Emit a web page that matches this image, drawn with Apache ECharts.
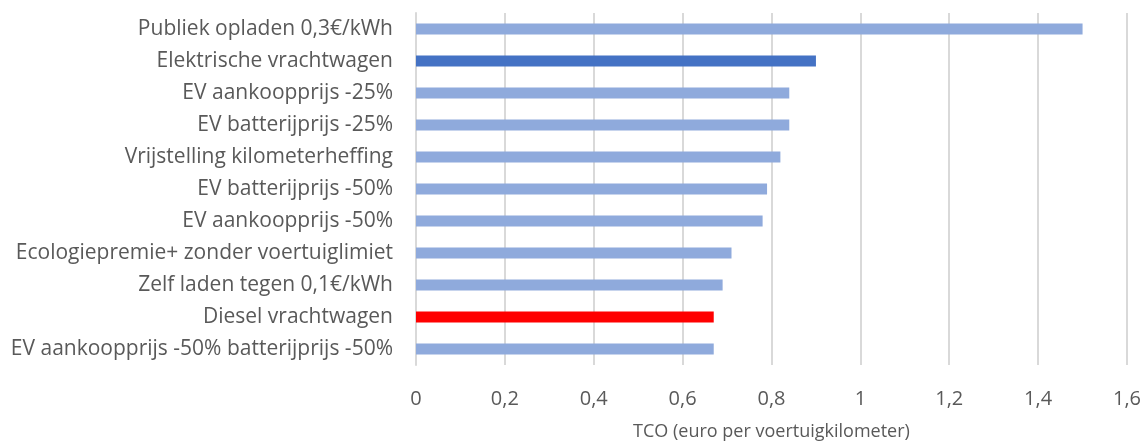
<!DOCTYPE html>
<html>
<head>
<meta charset="utf-8">
<script src="https://cdn.jsdelivr.net/npm/echarts@6/dist/echarts.min.js"></script>
<style>
  html, body { margin: 0; padding: 0; background: #fff; }
  #chart { width: 1144px; height: 441px; }
</style>
</head>
<body>
<div id="chart"></div>
<script>
// Scenarios, top to bottom
const categories = [
  'Publiek opladen 0,3€/kWh',
  'Elektrische vrachtwagen',
  'EV aankoopprijs -25%',
  'EV batterijprijs -25%',
  'Vrijstelling kilometerheffing',
  'EV batterijprijs -50%',
  'EV aankoopprijs -50%',
  'Ecologiepremie+ zonder voertuiglimiet',
  'Zelf laden tegen 0,1€/kWh',
  'Diesel vrachtwagen',
  'EV aankoopprijs -50% batterijprijs -50%'
];
// TCO in euro per voertuigkilometer
const tcoValues = [1.5, 0.9, 0.84, 0.84, 0.82, 0.79, 0.78, 0.71, 0.69, 0.67, 0.67];
// Colour role per bar: base scenario, diesel reference, or variant
const barRoles = ['variant', 'ev', 'variant', 'variant', 'variant', 'variant', 'variant', 'variant', 'variant', 'diesel', 'variant'];
const xTicks = { min: 0, max: 1.6, interval: 0.2 };
const axisTitle = 'TCO (euro per voertuigkilometer)';

const roleColors = { variant: '#8faadc', ev: '#4472c4', diesel: '#ff0000' };

const chart = echarts.init(document.getElementById('chart'), null, { renderer: 'canvas' });
chart.setOption({
  animation: false,
  grid: { left: 416, right: 17, top: 13, bottom: 76, outerBoundsMode: 'none' },
  xAxis: {
    type: 'value',
    min: xTicks.min, max: xTicks.max, interval: xTicks.interval,
    name: axisTitle,
    nameLocation: 'middle',
    nameGap: 58,
    nameTextStyle: { color: '#595959', fontSize: 18, fontFamily: 'Open Sans', verticalAlign: 'top' },
    axisLine: { show: false },
    axisTick: { show: false },
    axisLabel: {
      color: '#595959', fontSize: 20, fontFamily: 'Open Sans', margin: 24,
      formatter: v => String(Math.round(v * 10) / 10).replace('.', ',')
    },
    splitLine: { show: true, lineStyle: { color: '#d9d9d9', width: 2 } }
  },
  yAxis: {
    type: 'category',
    data: categories,
    inverse: true,
    axisLine: { show: true, lineStyle: { color: '#d9d9d9', width: 2 } },
    axisTick: { show: false },
    axisLabel: { color: '#595959', fontSize: 21, fontFamily: 'Open Sans', margin: 23 }
  },
  series: [{
    type: 'bar',
    barWidth: 11,
    data: tcoValues.map((v, i) => ({ value: v, itemStyle: { color: roleColors[barRoles[i]] } }))
  }]
});
</script>
</body>
</html>
